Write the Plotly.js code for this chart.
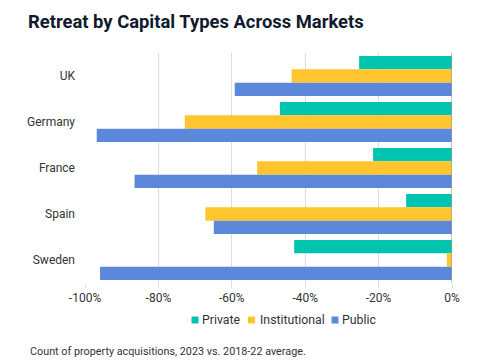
<!DOCTYPE html>
<html>
<head>
<meta charset="utf-8">
<script src="https://cdn.plot.ly/plotly-3.0.1.min.js"></script>
<style>html,body{margin:0;padding:0;background:#fff;}#chart{width:482px;height:363px;}</style>
</head>
<body>
<div id="chart"></div>
<script>
const markets = ["UK", "Germany", "France", "Spain", "Sweden"];
const privateVals = [-25.3, -46.9, -21.5, -12.5, -43.0];
const institutionalVals = [-43.7, -72.8, -53.1, -67.2, -1.4];
const publicVals = [-59.2, -96.8, -86.5, -64.9, -95.9];
const tickValues = [-100, -80, -60, -40, -20, 0];
const tickLabels = ["-100%", "-80%", "-60%", "-40%", "-20%", "0%"];
const seriesNames = ["Private", "Institutional", "Public"];

const colors = {Private: "#00C4B0", Institutional: "#FFC52F", Public: "#5B88DB"};
const seriesVals = [privateVals, institutionalVals, publicVals];

const traces = seriesNames.map((name, i) => ({
  type: "bar",
  orientation: "h",
  name: name,
  x: seriesVals[i],
  y: markets,
  marker: {color: colors[name], line: {width: 0}},
  hoverinfo: "x+y+name"
}));

// plot area geometry (pixels) for placing legend / caption
const W = 482, H = 363, ML = 85, MR = 30, MT = 53, MB = 80;
const PW = W - ML - MR, PH = H - MT - MB;
const px2x = p => (p - ML) / PW;
const px2y = p => (H - MB - p) / PH;

const font = "Roboto, 'Noto Sans', Arial, sans-serif";

// custom compact legend: swatch + label
const legendSwatchX = [191.5, 248, 331.5];
const legendTextX = [200, 257.5, 340];
const legendY = 320;
const sw = 7;
const legendShapes = seriesNames.map((name, i) => ({
  type: "rect", xref: "paper", yref: "paper",
  x0: px2x(legendSwatchX[i]), x1: px2x(legendSwatchX[i] + sw),
  y0: px2y(legendY + sw / 2), y1: px2y(legendY - sw / 2),
  fillcolor: colors[name], line: {width: 0}
}));
const legendAnn = seriesNames.map((name, i) => ({
  text: name, xref: "paper", yref: "paper",
  x: px2x(legendTextX[i]), y: px2y(legendY),
  xanchor: "left", yanchor: "middle", showarrow: false,
  font: {family: font, size: 12.3, color: "#333"}
}));

const layout = {
  width: W, height: H,
  margin: {l: ML, r: MR, t: MT, b: MB},
  paper_bgcolor: "#fff", plot_bgcolor: "#fff",
  barmode: "group", bargap: 0.13, bargroupgap: 0,
  font: {family: font, size: 12, color: "#333"},
  title: {
    text: "<b>Retreat by Capital Types Across Markets</b>",
    font: {family: font, size: 18.4, color: "#0F1B2D"},
    x: 28 / W, xref: "container", xanchor: "left",
    y: 1 - 22 / H, yref: "container", yanchor: "middle"
  },
  xaxis: {
    range: [-100, 0], tickvals: tickValues, ticktext: tickLabels,
    showgrid: true, gridcolor: "#DDDDDD", gridwidth: 1,
    zeroline: false, showline: false,
    ticks: "outside", ticklen: 4, tickcolor: "#DDDDDD",
    tickfont: {family: font, size: 12, color: "#333"},
    fixedrange: true
  },
  yaxis: {
    autorange: "reversed", type: "category",
    showgrid: false, zeroline: false, showline: false, ticks: "",
    ticklabelstandoff: 9,
    tickfont: {family: font, size: 12, color: "#333"},
    fixedrange: true
  },
  shapes: [{
    type: "line", xref: "x", yref: "paper", x0: 0, x1: 0, y0: 0, y1: 1,
    line: {color: "#999", width: 1.2}
  }].concat(legendShapes),
  showlegend: false,
  annotations: legendAnn.concat([{
    text: "Count of property acquisitions, 2023 vs. 2018-22 average.",
    xref: "paper", yref: "paper", x: px2x(28), y: px2y(351),
    xanchor: "left", yanchor: "middle", showarrow: false,
    font: {family: font, size: 10.8, color: "#333"}
  }])
};

Plotly.newPlot("chart", traces, layout, {displayModeBar: false, staticPlot: true});
</script>
</body>
</html>
